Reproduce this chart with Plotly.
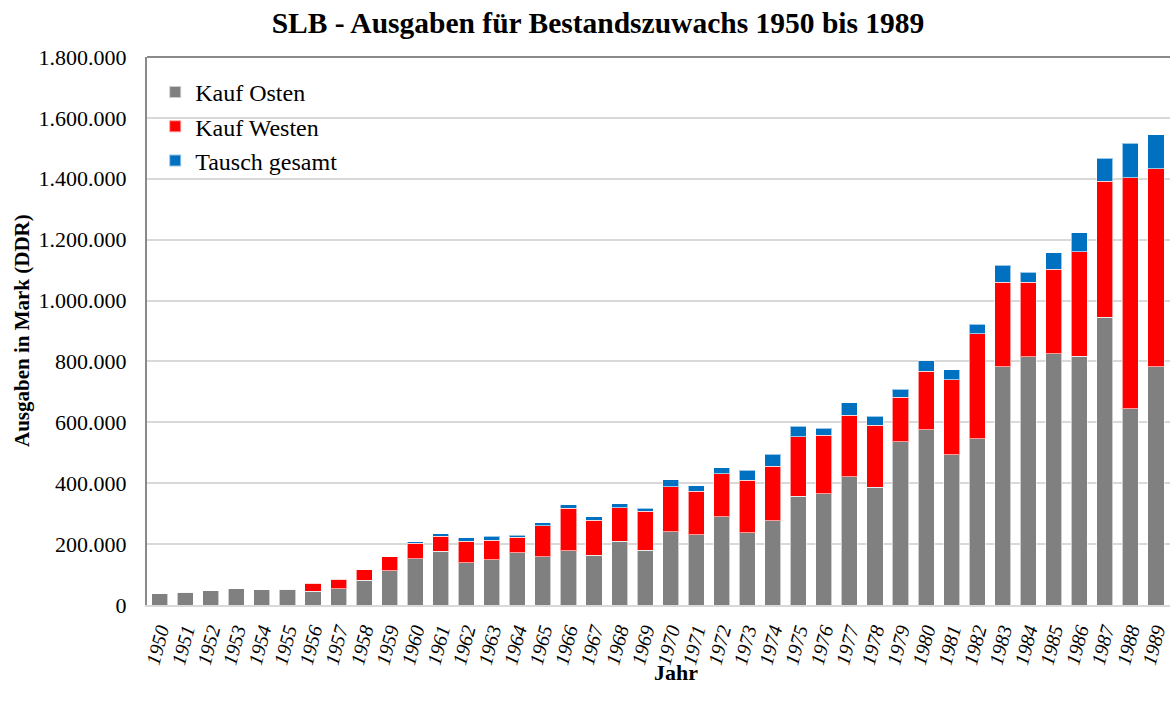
import plotly.graph_objects as go

years = [str(y) for y in range(1950, 1990)]

kauf_osten = [37000, 42000, 47000, 54000, 50000, 52000, 45000, 53000, 81000, 113000,
              152000, 176000, 139000, 149000, 172000, 159000, 178000, 163000, 210000, 180000,
              241000, 231000, 290000, 237000, 277000, 358000, 365000, 421000, 386000, 536000,
              576000, 493000, 546000, 782000, 815000, 826000, 817000, 946000, 644000, 782000]

kauf_westen = [0, 0, 0, 0, 0, 0, 26500, 31500, 34000, 45000,
               51500, 49600, 70000, 63500, 50000, 101700, 139300, 115000, 110200, 127800,
               147500, 143400, 141000, 172300, 178000, 194500, 193400, 202600, 204800, 146600,
               191600, 247000, 345000, 278700, 244900, 276700, 344000, 445800, 758600, 651400]

tausch_gesamt = [0, 0, 0, 0, 0, 0, 1000, 1000, 1500, 1000,
                 4000, 8400, 12000, 13100, 7000, 8800, 12500, 12000, 12100, 9900,
                 23000, 17400, 19800, 34000, 40700, 35000, 23000, 40400, 29200, 26400,
                 34600, 33000, 32000, 55700, 32800, 54400, 61000, 75200, 113400, 111600]

y_ticks = [0, 200000, 400000, 600000, 800000, 1000000, 1200000, 1400000, 1600000, 1800000]

FONT = "Liberation Serif"
edge = dict(width=1, color="rgba(255,255,255,0.6)")

fig = go.Figure()
fig.add_trace(go.Bar(x=years, y=kauf_osten, name="Kauf Osten", legendgroup="a",
                     marker=dict(color="#808080", line=edge)))
fig.add_trace(go.Bar(x=years, y=kauf_westen, name="Kauf Westen", legendgroup="b",
                     marker=dict(color="#ff0000", line=edge)))
fig.add_trace(go.Bar(x=years, y=tausch_gesamt, name="Tausch gesamt", legendgroup="c",
                     marker=dict(color="#0070c0", line=edge)))

W, H = 1170, 709
L, R, T = 147, 0, 57
B = H - 605
PW, PH = W - L - R, H - T - B

fig.update_layout(
    width=W, height=H,
    barmode="stack", bargap=0.37,
    separators=",.",
    paper_bgcolor="white", plot_bgcolor="white",
    margin=dict(l=L, r=R, t=T, b=B, autoexpand=False),
    font=dict(family=FONT, color="black", size=22),
    title=dict(text="<b>SLB - Ausgaben für Bestandszuwachs 1950 bis 1989</b>",
               x=598 / W, xanchor="center", xref="container",
               y=1 - 23 / H, yanchor="middle", yref="container",
               font=dict(family=FONT, size=29.5, color="black")),
    legend=dict(x=0.008, y=1 - 13 / PH, xanchor="left", yanchor="top",
                bgcolor="rgba(255,255,255,0)", font=dict(family=FONT, size=24),
                tracegroupgap=8, itemsizing="constant", traceorder="normal"),
    xaxis=dict(type="category", range=[-0.5, 39.55], showgrid=False, automargin=False,
               showline=True, linecolor="#d9d9d9", linewidth=2,
               tickangle=-75, tickfont=dict(family=FONT, size=20, style="italic"),
               ticks="", ticklabelstandoff=4),
    yaxis=dict(range=[0, 1800000], tickvals=y_ticks, tickformat=",d", automargin=False,
               showgrid=True, gridcolor="#d9d9d9", gridwidth=2,
               showline=True, linecolor="#898989", linewidth=2,
               zeroline=False, ticks="", ticklabelstandoff=14,
               tickfont=dict(family=FONT, size=22)),
    annotations=[
        dict(text="<b>Ausgaben in Mark (DDR)</b>", xref="paper", yref="paper",
             x=(22 - L) / PW, y=(605 - 331) / PH, xanchor="center", yanchor="middle",
             textangle=-90, showarrow=False, font=dict(family=FONT, size=21)),
        dict(text="<b>Jahr</b>", xref="paper", yref="paper",
             x=(676 - L) / PW, y=-(672 - 605) / PH, xanchor="center", yanchor="middle",
             showarrow=False, font=dict(family=FONT, size=22)),
    ],
    shapes=[dict(type="line", xref="paper", yref="paper", x0=0, x1=1, y0=1, y1=1,
                 line=dict(color="#898989", width=2))],
)

fig.write_html(
    "out.html",
    config={"displayModeBar": False},
    post_script="document.body.style.margin='0';document.body.style.overflow='hidden';"
                "document.documentElement.style.overflow='hidden';",
)
